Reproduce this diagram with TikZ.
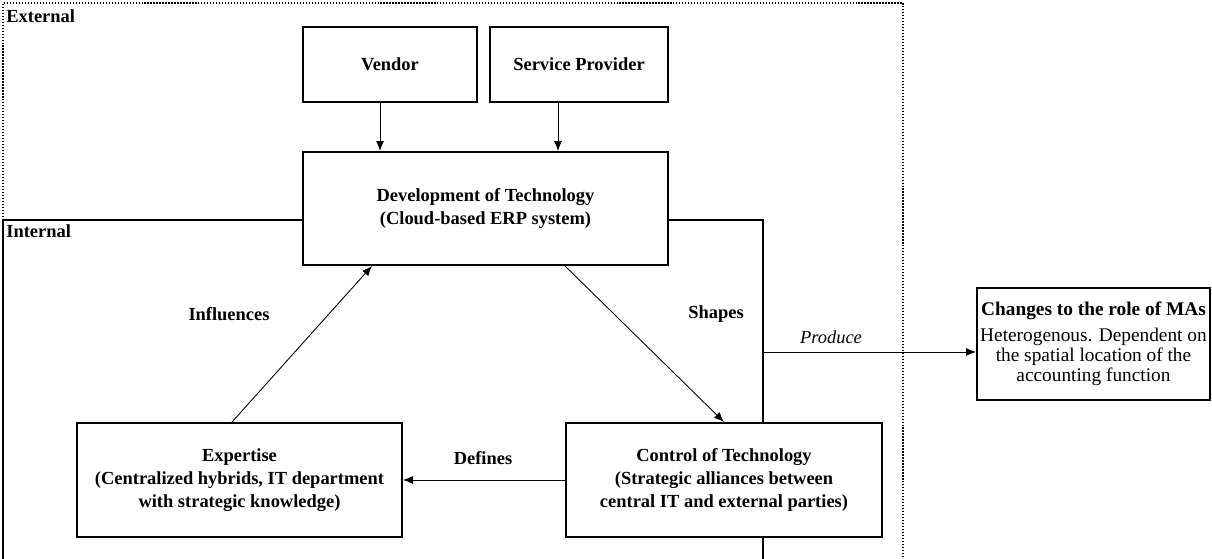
\documentclass[tikz,border=0pt]{standalone}
\usepackage{fontspec}
\setmainfont{Liberation Serif}
\usetikzlibrary{positioning, arrows.meta, backgrounds}

\begin{document}
\begin{tikzpicture}[
                >={Latex[length=2mm,width=1.6mm]},
                box/.style={draw, rectangle, line width=1.1pt, fill=white, align=center, font=\fontsize{10.5}{13}\selectfont\bfseries, inner sep=2pt},
                result/.style={draw, rectangle, line width=1.1pt, fill=white, align=center, font=\fontsize{11}{11.6}\selectfont, inner sep=1pt, minimum width=4.66cm, minimum height=2.24cm},
                lbl/.style={font=\fontsize{10.5}{13}\selectfont\bfseries},
                area/.style={font=\fontsize{10.5}{13}\selectfont\bfseries, anchor=west, inner sep=0pt}
            ]
            \useasboundingbox (0,0) rectangle (24.24,11.18);
            % Nodes
            \node[box, minimum width=3.48cm, minimum height=1.5cm] (vendor) at (7.80, 9.89) {Vendor};
            \node[box, minimum width=3.56cm, minimum height=1.5cm] (provider) at (11.58, 9.89) {Service Provider};
            \node[box, minimum width=7.3cm, minimum height=2.26cm] (dev) at (9.71, 7.01) {Development of Technology\\(Cloud-based ERP system)};
            \node[box, minimum width=6.5cm, minimum height=2.28cm] (expertise) at (4.79, 1.58) {Expertise\\(Centralized hybrids, IT department\\with strategic knowledge)};
            \node[box, minimum width=6.32cm, minimum height=2.28cm] (control) at (14.48, 1.58) {Control of Technology\\(Strategic alliances between\\central IT and external parties)};
            \node[result] (changes) at (21.87, 4.30) {\textbf{Changes to the role of MAs}\\[3pt]Heterogenous. Dependent on\\the spatial location of the\\accounting function};
            \node[area] (external) at (0.12, 10.86) {External};
            \node[area] (internal) at (0.12, 6.56) {Internal};

            % Boundaries
            \coordinate (intleft) at (0.06, 6.78);
            \coordinate (intright) at (15.26, 6.78);
            \coordinate (prodstart) at (15.26, 4.14);
            \begin{scope}[on background layer]
            \draw[densely dotted, line width=0.7pt] (intleft) -- (0.06, 11.12) -- (18.06, 11.12) -- (18.06, 0);
            \draw[line width=0.6pt] (0.06, 0) -- (intleft) -- (intleft -| dev.west);
            \draw[line width=0.6pt] (intright -| dev.east) -- (intright) -- (15.26, 0);
            \end{scope}

            % Edges
            \draw[->, line width=0.5pt] ([xshift=-2mm]vendor.south) -- ([xshift=-2mm]vendor.south |- dev.north);
            \draw[->, line width=0.5pt] ([xshift=-4.2mm]provider.south) -- ([xshift=-4.2mm]provider.south |- dev.north);
            \draw[->, line width=0.5pt] ([xshift=-1.5mm]expertise.north) -- ([xshift=-22.7mm]dev.south);
            \draw[->, line width=0.5pt] ([xshift=15.9mm]dev.south) -- (control.north);
            \draw[->, line width=0.5pt] (control.west) -- (expertise.east);
            \draw[->, line width=0.5pt] (prodstart) -- (changes.west |- prodstart);

            % Labels
            \node[lbl] (influences) at (4.58, 4.90) {Influences};
            \node[lbl] (shapes) at (14.32, 4.90) {Shapes};
            \node[lbl] (defines) at (9.66, 2.02) {Defines};
            \node[font=\fontsize{10.5}{13}\selectfont\itshape] (produce) at (16.62, 4.44) {Produce};
\end{tikzpicture}
\end{document}
